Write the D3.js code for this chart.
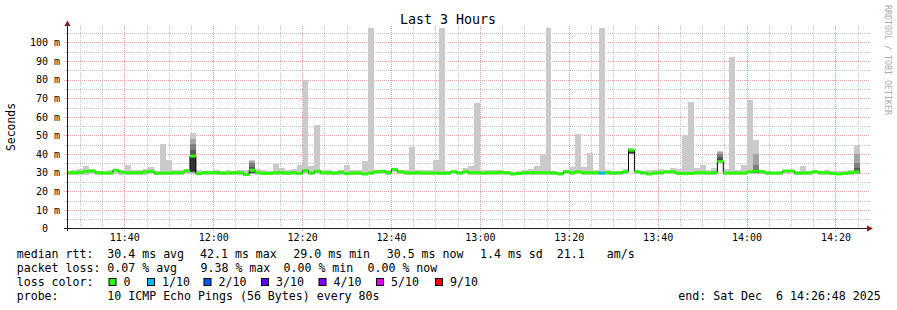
<!DOCTYPE html>
<html>
<head>
  <meta charset="utf-8">
  <title>Last 3 Hours</title>
  <script src="https://d3js.org/d3.v7.min.js"></script>
<style type="text/css">

body {
  margin: 0;
  background: #fff;
  overflow: hidden;
}

svg {
  display: block;
  font-family: "DejaVu Sans Mono", monospace;
}

.grid-minor line {
  stroke: #c4c4c4;
  stroke-dasharray: 1,1;
  shape-rendering: crispEdges;
}

.grid-major line {
  stroke: #ec9c9c;
  stroke-dasharray: 1,1;
  shape-rendering: crispEdges;
}

.smoke rect {
  shape-rendering: crispEdges;
}

.axis-line {
  stroke: #1f1f1f;
  shape-rendering: crispEdges;
}

.arrow {
  fill: #801f1f;
}

.legend text {
  font-size: 11.6px;
  fill: #000;
}

</style>
</head>
<body>

<svg width="897" height="310"></svg>

<script type="text/javascript">

// time frame of the graph and the 80 s probe steps
let startTime = new Date(2025, 11, 6, 11, 27, 6);
let endTime = new Date(2025, 11, 6, 14, 27, 6);
let firstStep = new Date(2025, 11, 6, 11, 26, 46);
let stepSeconds = 80;

// median rtt per step (ms)
let median = [
  30.0, 30.0, 30.1, 30.7, 31.0, 30.0, 29.8, 29.8, 31.3, 30.3,
  30.0, 30.0, 30.0, 30.4, 30.7, 29.6, 29.8, 29.8, 30.0, 30.0,
  31.0, 38.9, 29.5, 30.0, 30.0, 30.0, 29.8, 29.8, 30.0, 30.0,
  29.0, 31.3, 30.0, 29.6, 29.6, 30.0, 30.0, 29.8, 30.0, 29.6,
  31.1, 29.8, 30.8, 30.0, 30.0, 29.8, 30.3, 29.5, 29.8, 29.8,
  29.3, 29.8, 30.5, 30.7, 30.0, 31.8, 30.5, 30.0, 29.8, 30.0,
  29.8, 29.8, 29.8, 29.6, 29.8, 30.5, 29.8, 30.5, 30.0, 30.0,
  29.8, 30.0, 30.0, 30.2, 30.0, 29.3, 29.5, 30.0, 30.0, 30.0,
  30.0, 30.0, 29.8, 29.3, 30.5, 30.0, 30.5, 30.0, 30.0, 30.0,
  29.8, 30.0, 29.8, 30.0, 30.5, 42.1, 30.5, 30.0, 29.3, 29.8,
  30.0, 30.5, 30.5, 29.6, 29.6, 29.6, 30.0, 30.0, 29.8, 30.0,
  36.1, 29.8, 29.8, 29.8, 29.8, 30.5, 30.9, 30.5, 29.8, 29.8,
  29.8, 30.9, 30.9, 29.8, 29.8, 30.0, 30.5, 30.0, 30.0, 29.5,
  29.3, 29.6, 30.0, 30.5
];

// slowest ping per step (top of the smoke, ms)
let pingMax = [
  31.0, 31.2, 32.2, 33.6, 31.6, 31.0, 31.0, 31.2, 31.8, 31.2,
  34.3, 31.2, 31.6, 32.2, 33.0, 31.0, 45.3, 36.8, 31.2, 31.2,
  31.8, 51.5, 31.2, 31.0, 31.0, 31.2, 31.0, 31.2, 31.0, 31.2,
  31.2, 36.8, 32.2, 31.6, 31.0, 34.8, 32.5, 31.2, 32.2, 34.1,
  80.0, 33.4, 55.5, 31.6, 31.3, 30.8, 31.6, 34.0, 31.3, 31.3,
  36.1, 107.7, 31.6, 31.5, 31.6, 32.7, 31.3, 31.6, 43.8, 31.3,
  31.6, 31.3, 36.6, 107.7, 31.0, 31.3, 31.0, 32.7, 33.4, 67.5,
  31.6, 31.6, 31.6, 31.6, 31.0, 30.6, 30.8, 31.6, 32.2, 33.5,
  39.6, 107.7, 31.0, 30.6, 31.3, 33.0, 51.0, 33.0, 40.5, 31.3,
  107.7, 31.6, 31.0, 31.0, 32.1, 43.0, 31.3, 30.9, 31.3, 31.6,
  32.1, 31.6, 32.5, 32.1, 50.0, 68.0, 32.5, 34.0, 31.6, 32.5,
  41.5, 32.1, 92.0, 31.3, 34.0, 69.0, 47.5, 31.3, 30.9, 30.6,
  30.9, 31.3, 31.6, 30.9, 33.4, 30.9, 31.6, 30.9, 31.3, 30.9,
  30.9, 30.9, 31.6, 45.0
];

// fastest ping per step (bottom of the smoke, ms)
let pingMin = [
  29.0, 29.0, 28.8, 28.9, 29.2, 28.9, 28.7, 28.8, 29.1, 29.0,
  28.9, 29.0, 29.0, 28.9, 29.1, 28.7, 28.8, 28.9, 29.0, 28.8,
  29.2, 29.4, 28.7, 28.9, 29.0, 29.0, 28.8, 28.9, 29.0, 28.9,
  28.5, 29.2, 29.0, 28.7, 28.8, 29.0, 29.0, 28.8, 28.9, 28.8,
  29.3, 28.8, 29.2, 29.0, 29.0, 28.8, 29.0, 28.6, 28.8, 28.8,
  28.5, 28.8, 29.2, 29.3, 29.0, 30.2, 29.3, 29.0, 28.9, 29.0,
  28.8, 28.8, 28.9, 28.6, 28.9, 29.2, 28.8, 29.2, 29.0, 29.0,
  28.7, 29.0, 29.0, 29.0, 29.0, 28.5, 28.7, 29.0, 29.0, 29.0,
  29.0, 29.0, 28.8, 28.5, 29.2, 28.9, 29.2, 29.0, 29.0, 29.0,
  28.8, 29.0, 28.8, 29.0, 29.2, 39.8, 29.2, 29.0, 28.5, 28.8,
  29.0, 29.2, 29.2, 28.7, 28.7, 28.7, 29.0, 28.9, 28.8, 29.0,
  35.5, 28.8, 28.8, 28.8, 28.8, 29.2, 29.5, 29.3, 28.8, 28.8,
  28.8, 29.6, 29.6, 28.8, 28.8, 29.0, 29.2, 29.0, 29.0, 28.6,
  28.5, 28.7, 29.0, 29.2
];

// steps with denser (darker) inner smoke: tops / bottoms of the 4 inner bands
let darkSteps = [21, 31, 95, 110, 116, 133];
let darkTop = [
  [48.0, 45.5, 42.0, 39.5],
  [36.5, 35.0, 33.0, 31.8],
  [42.9, 42.7, 42.5, 42.4],
  [41.0, 40.0, 38.5, 37.2],
  [40.2, 34.0, 32.0, 31.3],
  [40.0, 35.0, 32.5, 31.5]
];
let darkBottom = [
  [29.8, 30.2, 30.5, 30.8],
  [29.4, 29.7, 30.0, 30.3],
  [39.9, 40.1, 40.4, 40.8],
  [35.8, 36.0, 36.3, 36.6],
  [29.6, 29.8, 30.0, 30.3],
  [29.4, 29.7, 30.0, 30.2]
];

// steps that lost packets and their loss band
let lossSteps = [90];
let lossBands = ['1/10'];

let yTicks = [0, 10, 20, 30, 40, 50, 60, 70, 80, 90, 100];
let yMinorTicks = [5, 15, 25, 35, 45, 55, 65, 75, 85, 95, 105];

let lossLabels = ['0', '1/10', '2/10', '3/10', '4/10', '5/10', '9/10'];
let lossColors = ['#26ff00', '#00b8ff', '#0059ff', '#5e00ff', '#7e00ff', '#dd00ff', '#ff0000'];
let smokeGreys = ['#cacaca', '#a4a4a4', '#7e7e7e', '#585858', '#323232'];

let statsRtt = [
  ['median rtt:', 16.7], ['30.4 ms avg', 107.3], ['42.1 ms max', 200], ['29.0 ms min', 293.3],
  ['30.5 ms now', 386.7], ['1.4 ms sd', 480], ['21.1', 556.7], ['am/s', 606.7]
];
let statsLoss = [
  ['packet loss:', 16.7], ['0.07 % avg', 107.3], ['9.38 % max', 200.5], ['0.00 % min', 283.5],
  ['0.00 % now', 367.5]
];
let lossLegendX = [108.5, 147, 203.5, 261, 318.5, 376, 435];
let probeText = '10 ICMP Echo Pings (56 Bytes) every 80s';
let endText = 'end: Sat Dec  6 14:26:48 2025';


let svg = d3.select('svg');

let x = d3.scaleTime()
  .domain([startTime, endTime])
  .range([67, 867]);

let y = d3.scaleLinear()
  .domain([0, 108.8])
  .range([228.5, 26]);

let stepTimes = median.map((d, i) => d3.timeSecond.offset(firstStep, i * stepSeconds));
let stepEnd = i => d3.timeSecond.offset(stepTimes[i], stepSeconds);

// GRID
let majorX = x.ticks(d3.timeMinute.every(20));
let minorX = x.ticks(d3.timeMinute.every(5)).filter(t => t.getMinutes() % 20 !== 0);

let gMinor = svg.append('g').attr('class', 'grid-minor');
gMinor.selectAll('line.v')
  .data(minorX)
  .enter()
  .append('line')
  .attr('class', 'v')
  .attr('x1', d => Math.round(x(d)) + 0.5)
  .attr('x2', d => Math.round(x(d)) + 0.5)
  .attr('y1', 26)
  .attr('y2', 230);
gMinor.selectAll('line.h')
  .data(yMinorTicks)
  .enter()
  .append('line')
  .attr('class', 'h')
  .attr('x1', 64)
  .attr('x2', 869)
  .attr('y1', d => Math.round(y(d)) + 0.5)
  .attr('y2', d => Math.round(y(d)) + 0.5);

let gMajor = svg.append('g').attr('class', 'grid-major');
gMajor.selectAll('line.v')
  .data(majorX)
  .enter()
  .append('line')
  .attr('class', 'v')
  .attr('x1', d => Math.round(x(d)) + 0.5)
  .attr('x2', d => Math.round(x(d)) + 0.5)
  .attr('y1', 26)
  .attr('y2', 231);
gMajor.selectAll('line.h')
  .data(yTicks.filter(d => d > 0))
  .enter()
  .append('line')
  .attr('class', 'h')
  .attr('x1', 64)
  .attr('x2', 869)
  .attr('y1', d => Math.round(y(d)) + 0.5)
  .attr('y2', d => Math.round(y(d)) + 0.5);

// SMOKE
svg.append('clipPath')
  .attr('id', 'plot-clip')
  .append('rect')
  .attr('x', 67)
  .attr('y', 26)
  .attr('width', 800)
  .attr('height', 202.5);

let gSmoke = svg.append('g')
  .attr('class', 'smoke')
  .attr('clip-path', 'url(#plot-clip)');

gSmoke.selectAll('rect.outer')
  .data(median)
  .enter()
  .append('rect')
  .attr('class', 'outer')
  .attr('x', (d, i) => x(stepTimes[i]))
  .attr('width', (d, i) => x(stepEnd(i)) - x(stepTimes[i]))
  .attr('y', (d, i) => y(pingMax[i]))
  .attr('height', (d, i) => y(pingMin[i]) - y(pingMax[i]))
  .attr('fill', smokeGreys[0]);

darkSteps.forEach(function(step, j) {
  gSmoke.selectAll('rect.inner-' + step)
    .data(darkTop[j])
    .enter()
    .append('rect')
    .attr('x', x(stepTimes[step]))
    .attr('width', x(stepEnd(step)) - x(stepTimes[step]))
    .attr('y', d => y(d))
    .attr('height', (d, k) => y(darkBottom[j][k]) - y(d))
    .attr('fill', (d, k) => smokeGreys[k + 1]);
});

// MEDIAN
let medianPoints = median.map((d, i) => [stepTimes[i], d]);
medianPoints.push([stepEnd(median.length - 1), median[median.length - 1]]);

let medianLine = d3.line()
  .x(d => x(d[0]))
  .y(d => y(d[1]))
  .curve(d3.curveStepAfter);

svg.append('path')
  .attr('clip-path', 'url(#plot-clip)')
  .attr('d', medianLine(medianPoints))
  .attr('fill', 'none')
  .attr('stroke', '#000')
  .attr('stroke-width', 1);

function lossColor(i) {
  let j = lossSteps.indexOf(i);
  if (j < 0) return lossColors[0];
  return lossColors[lossLabels.indexOf(lossBands[j])];
}

svg.append('g')
  .attr('clip-path', 'url(#plot-clip)')
  .selectAll('rect')
  .data(median)
  .enter()
  .append('rect')
  .attr('x', (d, i) => x(stepTimes[i]))
  .attr('width', (d, i) => x(stepEnd(i)) - x(stepTimes[i]))
  .attr('y', d => y(d) - 1.5)
  .attr('height', 3)
  .attr('fill', (d, i) => lossColor(i));

// AXES
let xAxis = d3.axisBottom(x)
  .tickValues(majorX)
  .tickFormat(d3.timeFormat('%H:%M'))
  .tickSize(0)
  .tickPadding(5);

let gx = svg.append('g')
  .attr('transform', 'translate(0,228.5)')
  .call(xAxis);
gx.select('.domain').remove();
gx.selectAll('text')
  .attr('font-family', '"DejaVu Sans Mono", monospace')
  .attr('font-size', 10)
  .attr('fill', '#000');

let yAxis = d3.axisLeft(y)
  .tickValues(yTicks)
  .tickFormat(d => d === 0 ? '0\u00a0\u00a0' : d + ' m')
  .tickSize(0)
  .tickPadding(7);

let gy = svg.append('g')
  .attr('transform', 'translate(67,0)')
  .call(yAxis);
gy.select('.domain').remove();
gy.selectAll('text')
  .attr('font-family', '"DejaVu Sans Mono", monospace')
  .attr('font-size', 10)
  .attr('fill', '#000');

svg.append('line')
  .attr('class', 'axis-line')
  .attr('x1', 64).attr('x2', 868)
  .attr('y1', 228.5).attr('y2', 228.5);
svg.append('line')
  .attr('class', 'axis-line')
  .attr('x1', 67.5).attr('x2', 67.5)
  .attr('y1', 231).attr('y2', 25);

svg.append('path')
  .attr('class', 'arrow')
  .attr('d', 'M867,225.5 L873,228.5 L867,231.5 Z');
svg.append('path')
  .attr('class', 'arrow')
  .attr('d', 'M64.5,26 L67.5,20.5 L70.5,26 Z');

// TITLES
svg.append('text')
  .attr('x', 448)
  .attr('y', 24)
  .attr('text-anchor', 'middle')
  .attr('font-size', 13.3)
  .text('Last 3 Hours');

svg.append('text')
  .attr('transform', 'translate(15,127) rotate(-90)')
  .attr('text-anchor', 'middle')
  .attr('font-size', 11.4)
  .text('Seconds');

svg.append('text')
  .attr('transform', 'translate(885,5) rotate(90)')
  .attr('font-size', 8.3)
  .attr('fill', '#aaa')
  .text('RRDTOOL / TOBI OETIKER');

// LEGEND
let legend = svg.append('g').attr('class', 'legend');

legend.selectAll('text.rtt')
  .data(statsRtt)
  .enter()
  .append('text')
  .attr('class', 'rtt')
  .attr('x', d => d[1])
  .attr('y', 258)
  .attr('xml:space', 'preserve')
  .text(d => d[0]);

legend.selectAll('text.loss')
  .data(statsLoss)
  .enter()
  .append('text')
  .attr('class', 'loss')
  .attr('x', d => d[1])
  .attr('y', 271.8)
  .attr('xml:space', 'preserve')
  .text(d => d[0]);

legend.append('text')
  .attr('x', 16.7)
  .attr('y', 285.8)
  .text('loss color:');

legend.selectAll('rect.swatch')
  .data(lossColors)
  .enter()
  .append('rect')
  .attr('class', 'swatch')
  .attr('x', (d, i) => lossLegendX[i] + 0.5)
  .attr('y', 278.5)
  .attr('width', 7)
  .attr('height', 7)
  .attr('fill', d => d)
  .attr('stroke', '#000')
  .attr('stroke-width', 1);

legend.selectAll('text.band')
  .data(lossLabels)
  .enter()
  .append('text')
  .attr('class', 'band')
  .attr('x', (d, i) => lossLegendX[i] + 15)
  .attr('y', 285.8)
  .text(d => d);

legend.append('text')
  .attr('x', 16.7)
  .attr('y', 299.8)
  .text('probe:');
legend.append('text')
  .attr('x', 107.3)
  .attr('y', 299.8)
  .text(probeText);
legend.append('text')
  .attr('x', 678.3)
  .attr('y', 299.8)
  .attr('xml:space', 'preserve')
  .text(endText);

</script>

</body>
</html>
